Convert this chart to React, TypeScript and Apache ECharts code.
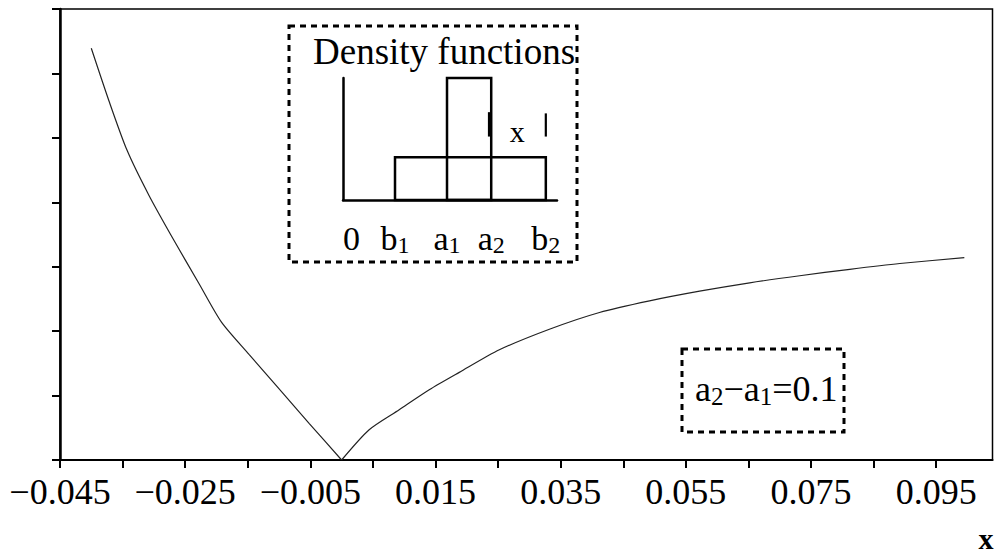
import React, { useEffect, useRef } from 'react';
import * as echarts from 'echarts';

// main curve; the vertex is at index 10
const curveX = [-0.040, -0.0372, -0.0343, -0.0308, -0.0268, -0.0228, -0.0192, -0.0148, -0.0095, -0.0052, 0.0, 0.0044, 0.0092, 0.0140, 0.0188, 0.0252, 0.0332, 0.0412, 0.0492, 0.0572, 0.0652, 0.0732, 0.0812, 0.0892, 0.0995];
const curveY = [6.39, 5.58, 4.81, 4.11, 3.41, 2.74, 2.14, 1.64, 1.05, 0.57, 0.0, 0.47, 0.78, 1.09, 1.36, 1.71, 2.03, 2.29, 2.47, 2.62, 2.75, 2.86, 2.96, 3.05, 3.14];
const vertexIndex = 10;

// inset density diagram
const insetEdges = [0, 1, 2, 2.85, 3.9];
const insetLetters = ['0', 'b', 'a', 'a', 'b'];
const insetSubs = ['', '1', '1', '2', '2'];
const lowBox = [1, 3.9, 0.35];
const tallBox = [2, 2.85, 1];
const markBars = [[2.82, 0.52, 0.72], [3.9, 0.52, 0.71]];
const markText = [3.35, 0.56];

const FONT = 'Liberation Serif, Times New Roman, serif';

export default function App() {
  const ref = useRef<HTMLDivElement>(null);
  useEffect(() => {
    if (!ref.current) return;
    const chart = echarts.init(ref.current, null, { renderer: 'svg' });
    const curve = curveX.map((x, i) => [x, curveY[i]]);
    const leftPart = curve.slice(0, vertexIndex + 1);
    const rightPart = curve.slice(vertexIndex);
    const labelData = insetEdges.map((e, i) => [e, i]);
    const lineSeries = (data: number[][]) => ({
      type: 'line', xAxisIndex: 0, yAxisIndex: 0, data, showSymbol: false, symbol: 'none',
      smooth: 0.25, lineStyle: { color: '#222', width: 1.2 }, silent: true,
    });
    const option: any = {
      animation: false,
      backgroundColor: '#fff',
      grid: [
        { left: 60, right: 12.5, top: 9, bottom: 96, show: true, borderColor: '#000', borderWidth: 1.5, backgroundColor: 'transparent' },
        { left: 343, top: 78, width: 214, height: 122, show: false },
      ],
      xAxis: [
        {
          gridIndex: 0, type: 'value', min: -0.045, max: 0.104, interval: 0.01,
          axisLine: { show: true, onZero: false, lineStyle: { color: '#000', width: 2 } },
          axisTick: { show: true, length: 8, lineStyle: { color: '#000', width: 2 } },
          splitLine: { show: false },
          axisLabel: {
            show: true, margin: 14, color: '#000', fontSize: 36, fontFamily: FONT,
            showMaxLabel: false,
            formatter: (v: number) => {
              const r = (v + 0.045) / 0.01;
              const k = Math.round(r);
              if (Math.abs(r - k) > 1e-6 || k % 2 !== 0) return '';
              return v.toFixed(3).replace('-', '\u2212');
            },
          },
        },
        {
          gridIndex: 1, type: 'value', min: 0, max: 4.115,
          axisLine: { show: true, onZero: false, lineStyle: { color: '#000', width: 2.5 } },
          axisTick: { show: false }, axisLabel: { show: false }, splitLine: { show: false },
        },
      ],
      yAxis: [
        {
          gridIndex: 0, type: 'value', min: 0, max: 7, interval: 1,
          axisLine: { show: true, onZero: false, lineStyle: { color: '#000', width: 2.5 } },
          axisTick: { show: true, length: 8, lineStyle: { color: '#000', width: 2 } },
          axisLabel: { show: false }, splitLine: { show: false },
        },
        {
          gridIndex: 1, type: 'value', min: 0, max: 1,
          axisLine: { show: true, onZero: false, lineStyle: { color: '#000', width: 2.5 } },
          axisTick: { show: false }, axisLabel: { show: false }, splitLine: { show: false },
        },
      ],
      series: [
        lineSeries(leftPart),
        lineSeries(rightPart),
        {
          type: 'custom', xAxisIndex: 1, yAxisIndex: 1, silent: true,
          data: [lowBox, tallBox],
          renderItem: (params: any, api: any) => {
            const x0 = api.value(0), x1 = api.value(1), h = api.value(2);
            const p0 = api.coord([x0, h]);
            const p1 = api.coord([x1, 0]);
            return {
              type: 'rect',
              shape: { x: p0[0], y: p0[1], width: p1[0] - p0[0], height: p1[1] - p0[1] },
              style: { fill: 'none', stroke: '#000', lineWidth: 2.5 },
            };
          },
        },
        {
          type: 'custom', xAxisIndex: 1, yAxisIndex: 1, silent: true,
          data: markBars,
          renderItem: (params: any, api: any) => {
            const a = api.coord([api.value(0), api.value(1)]);
            const b = api.coord([api.value(0), api.value(2)]);
            return {
              type: 'line',
              shape: { x1: a[0], y1: a[1], x2: b[0], y2: b[1] },
              style: { stroke: '#000', lineWidth: params.dataIndex === 0 ? 3.5 : 2.2 },
            };
          },
        },
        {
          type: 'custom', xAxisIndex: 1, yAxisIndex: 1, silent: true,
          data: [markText],
          renderItem: (params: any, api: any) => {
            const p = api.coord([api.value(0), api.value(1)]);
            return {
              type: 'text', x: p[0], y: p[1],
              style: { text: 'x', fill: '#000', fontSize: 30, fontFamily: FONT, align: 'center', verticalAlign: 'middle' },
            };
          },
        },
        {
          type: 'custom', xAxisIndex: 1, yAxisIndex: 1, silent: true,
          data: labelData,
          renderItem: (params: any, api: any) => {
            const i = api.value(1);
            const p = api.coord([api.value(0), 0]);
            const sub = insetSubs[i];
            const text = sub ? `{m|${insetLetters[i]}}{s|${sub}}` : `{m|${insetLetters[i]}}`;
            return {
              type: 'text', x: p[0], y: p[1] + 38,
              style: {
                text, fill: '#000', align: i === 0 ? 'left' : 'center', verticalAlign: 'middle',
                rich: {
                  m: { fontSize: 34, fontFamily: FONT, lineHeight: 38, verticalAlign: 'middle', fill: '#000' },
                  s: { fontSize: 24, fontFamily: FONT, lineHeight: 24, verticalAlign: 'bottom', fill: '#000' },
                },
              },
            };
          },
        },
      ],
      graphic: [
        {
          type: 'rect', shape: { x: 289, y: 26, width: 288, height: 236 },
          style: { fill: 'none', stroke: '#000', lineWidth: 3, lineDash: [6, 5] }, z: 10,
        },
        {
          type: 'text', x: 313, y: 51,
          style: { text: 'Density functions', fill: '#000', fontSize: 37, fontFamily: FONT, align: 'left', verticalAlign: 'middle' }, z: 10,
        },
        {
          type: 'rect', shape: { x: 682, y: 349, width: 162, height: 83 },
          style: { fill: 'none', stroke: '#000', lineWidth: 3, lineDash: [6, 5] }, z: 10,
        },
        {
          type: 'text', x: 695, y: 389,
          style: {
            text: '{m|a}{s|2}{m|\u2212a}{s|1}{m|=0.1}', align: 'left', verticalAlign: 'middle', fill: '#000',
            rich: {
              m: { fontSize: 36, fontFamily: FONT, lineHeight: 40, verticalAlign: 'middle', fill: '#000' },
              s: { fontSize: 25, fontFamily: FONT, lineHeight: 25, verticalAlign: 'bottom', fill: '#000' },
            },
          }, z: 10,
        },
        {
          type: 'text', x: 986, y: 538,
          style: { text: 'x', fill: '#000', fontSize: 30, fontWeight: 'bold', fontFamily: FONT, align: 'center', verticalAlign: 'middle' }, z: 10,
        },
      ],
    };
    chart.setOption(option);
    return () => chart.dispose();
  }, []);
  return <div ref={ref} style={{ position: 'fixed', left: 0, top: 0, width: 1005, height: 556, background: '#fff' }} />;
}
